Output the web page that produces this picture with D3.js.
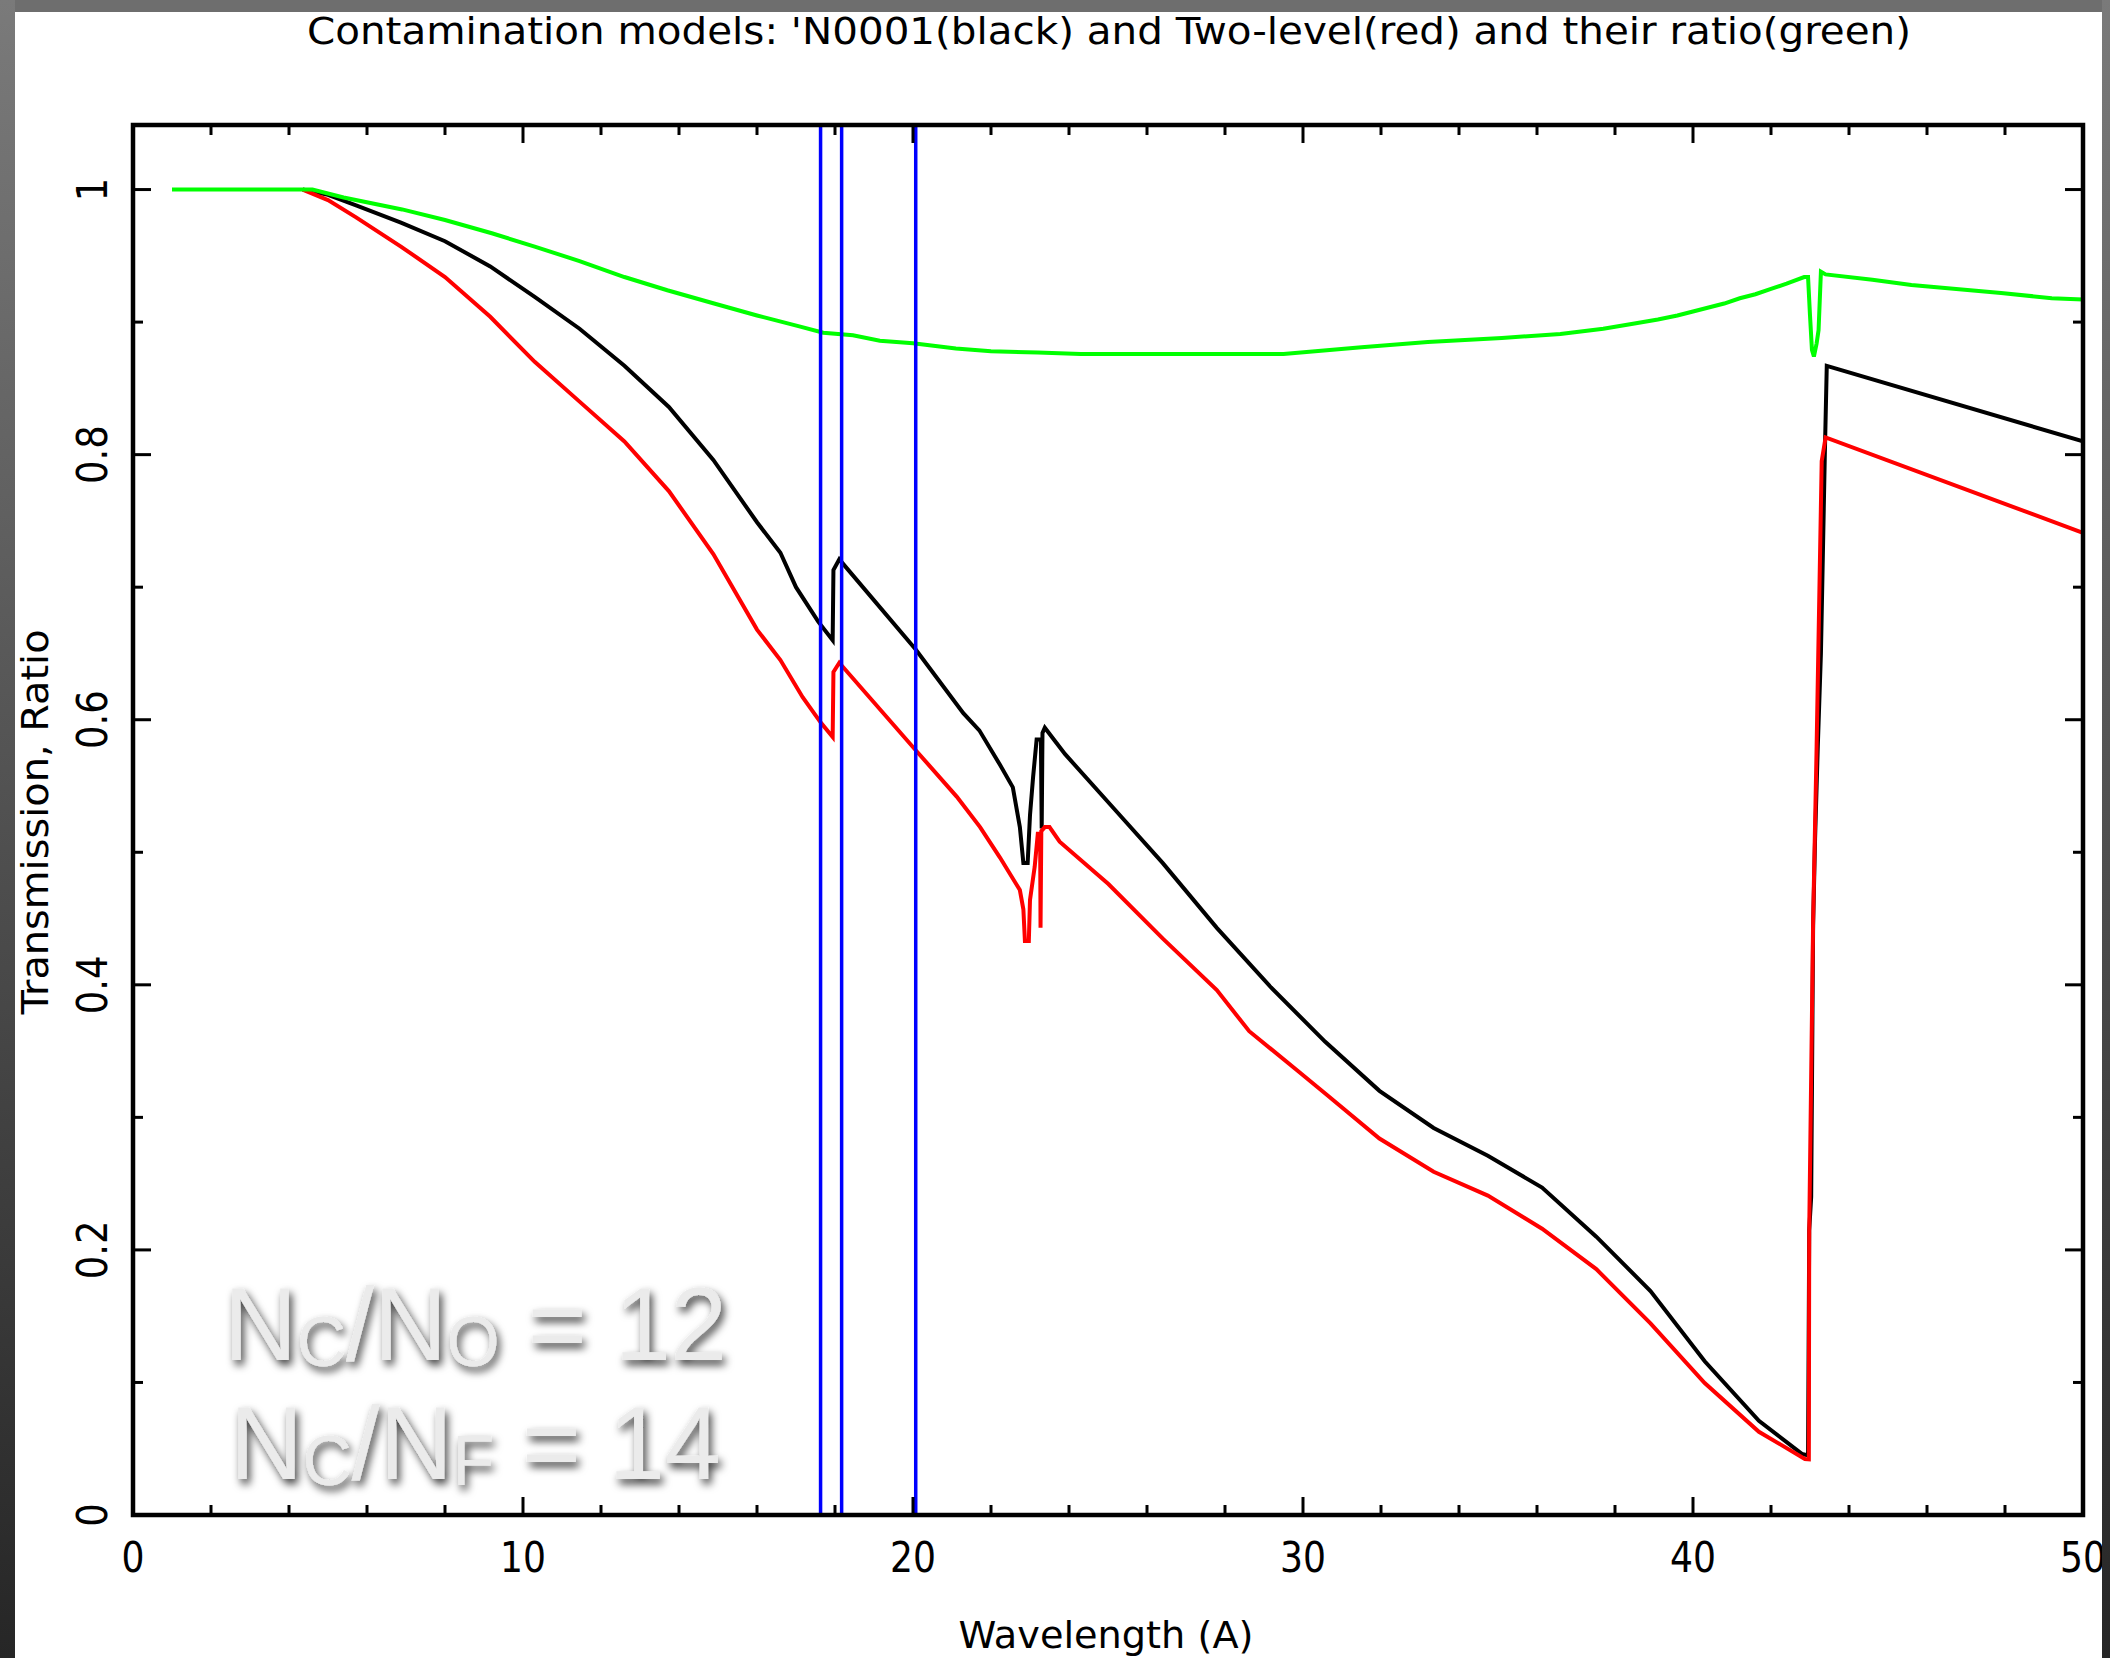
<!DOCTYPE html>
<html>
<head>
<meta charset="utf-8">
<script src="https://cdn.jsdelivr.net/npm/d3@7"></script>
<style>
  html, body { margin: 0; padding: 0; background: #fff; }
  svg { display: block; }
</style>
</head>
<body>
<div id="visual-area"></div>
<script>
// wavelength (A) vs transmission for the two contamination models
const modelN0001 = [
  [4.35, 1.0], [5.0, 0.996], [5.72, 0.988], [6.87, 0.975], [8.0, 0.961], [9.16, 0.942],
  [10.3, 0.919], [11.45, 0.895], [12.6, 0.867], [13.74, 0.836], [14.88, 0.796], [16.0, 0.749],
  [16.6, 0.726], [17.0, 0.700], [17.57, 0.674], [17.94, 0.660], [17.96, 0.713], [18.11, 0.721],
  [20.07, 0.653], [21.29, 0.605], [21.7, 0.592], [22.23, 0.566], [22.56, 0.549], [22.74, 0.519],
  [22.83, 0.492], [22.94, 0.492], [23.0, 0.528], [23.08, 0.557], [23.17, 0.585], [23.28, 0.585],
  [23.3, 0.518], [23.32, 0.59], [23.38, 0.594], [23.9, 0.574], [25.15, 0.533], [26.4, 0.492],
  [27.79, 0.443], [29.18, 0.398], [30.57, 0.357], [31.96, 0.320], [33.35, 0.292], [34.74, 0.271],
  [36.13, 0.247], [37.52, 0.210], [38.91, 0.169], [40.3, 0.116], [41.69, 0.071], [42.8, 0.046],
  [42.95, 0.045], [42.98, 0.215], [43.03, 0.24], [43.08, 0.445], [43.13, 0.51], [43.2, 0.58],
  [43.28, 0.65], [43.38, 0.80], [43.43, 0.867], [50.0, 0.810]
];

const modelTwoLevel = [
  [4.35, 1.0], [5.0, 0.992], [5.72, 0.979], [6.87, 0.957], [8.0, 0.934], [9.16, 0.904],
  [10.3, 0.870], [11.45, 0.840], [12.6, 0.810], [13.74, 0.7725], [14.88, 0.725], [16.0, 0.668],
  [16.6, 0.645], [17.17, 0.617], [17.63, 0.598], [17.94, 0.587], [17.96, 0.636], [18.11, 0.643],
  [20.07, 0.577], [21.12, 0.542], [21.72, 0.519], [22.23, 0.496], [22.74, 0.4715], [22.83, 0.457],
  [22.87, 0.433], [22.97, 0.433], [23.0, 0.464], [23.12, 0.489], [23.2, 0.514], [23.26, 0.514],
  [23.27, 0.443], [23.29, 0.516], [23.38, 0.519], [23.5, 0.519], [23.76, 0.508], [25.01, 0.476],
  [26.4, 0.435], [27.79, 0.396], [28.62, 0.365], [29.87, 0.335], [30.57, 0.318], [31.96, 0.284],
  [33.35, 0.259], [34.74, 0.241], [36.13, 0.216], [37.52, 0.1855], [38.91, 0.1446], [40.3, 0.0996],
  [41.69, 0.0628], [42.87, 0.0423], [42.97, 0.042], [42.98, 0.214], [43.08, 0.448], [43.17, 0.58],
  [43.3, 0.795], [43.4, 0.813], [50.0, 0.741]
];

const modelRatio = [
  [1.0, 1.0], [4.6, 1.0], [5.4, 0.994], [6.9, 0.985], [8.0, 0.977], [9.2, 0.967], [10.3, 0.957],
  [11.45, 0.946], [12.6, 0.934], [13.7, 0.924], [14.9, 0.914], [16.0, 0.905], [17.06, 0.897],
  [17.7, 0.892], [18.46, 0.890], [19.15, 0.886], [20.0, 0.884], [21.1, 0.880], [22.0, 0.878],
  [23.2, 0.877], [24.3, 0.876], [29.5, 0.876], [31.5, 0.881], [33.2, 0.885], [35.1, 0.888],
  [36.6, 0.891], [37.7, 0.895], [38.5, 0.899], [39.1, 0.902], [39.6, 0.905], [40.0, 0.908],
  [40.4, 0.911], [40.8, 0.914], [41.2, 0.918], [41.6, 0.921], [42.0, 0.925], [42.4, 0.929],
  [42.85, 0.934], [42.95, 0.934], [43.0, 0.905], [43.05, 0.879], [43.1, 0.874], [43.17, 0.884],
  [43.22, 0.894], [43.28, 0.938], [43.4, 0.936], [44.6, 0.932], [45.6, 0.928], [46.75, 0.925],
  [47.9, 0.922], [49.2, 0.918], [50.0, 0.917]
];

// marker wavelengths
const edgeLines = [17.63, 18.17, 20.07];

const xMajor = [0, 10, 20, 30, 40, 50];
const yMajor = [0, 0.2, 0.4, 0.6, 0.8, 1];
const yLabels = ["0", "0.2", "0.4", "0.6", "0.8", "1"];

const titleText = "Contamination models: 'N0001(black) and Two-level(red) and their ratio(green)";

const width = 2110, height = 1658;
const plot = { left: 133, right: 2083, top: 125, bottom: 1515 };

const svg = d3.select("#visual-area")
  .append("svg")
  .attr("width", width)
  .attr("height", height)
  .style("font-family", "'DejaVu Sans', sans-serif");

const defs = svg.append("defs");

defs.append("clipPath").attr("id", "plot-clip")
  .append("rect")
  .attr("x", plot.left).attr("y", plot.top)
  .attr("width", plot.right - plot.left).attr("height", plot.bottom - plot.top);

const sideGrad = defs.append("linearGradient")
  .attr("id", "side-grad").attr("x1", 0).attr("y1", 0).attr("x2", 0).attr("y2", 1);
sideGrad.append("stop").attr("offset", "0%").attr("stop-color", "#7a7a7a");
sideGrad.append("stop").attr("offset", "100%").attr("stop-color", "#262626");

const shadow = defs.append("filter").attr("id", "note-shadow")
  .attr("x", "-10%").attr("y", "-20%").attr("width", "130%").attr("height", "160%");
shadow.append("feDropShadow")
  .attr("dx", 3).attr("dy", 5).attr("stdDeviation", 4)
  .attr("flood-color", "#000").attr("flood-opacity", 0.75);

svg.append("rect").attr("width", width).attr("height", height).attr("fill", "#fff");

const x = d3.scaleLinear().domain([0, 50]).range([plot.left, plot.right]);
const y = d3.scaleLinear().domain([0, 1.0487]).range([plot.bottom, plot.top]);

const line = d3.line().x(d => x(d[0])).y(d => y(d[1]));

const curves = svg.append("g").attr("clip-path", "url(#plot-clip)");

[
  { data: modelN0001, color: "#000000" },
  { data: modelTwoLevel, color: "#ff0000" },
  { data: modelRatio, color: "#00ff00" }
].forEach(s => {
  curves.append("path")
    .datum(s.data)
    .attr("d", line)
    .attr("fill", "none")
    .attr("stroke", s.color)
    .attr("stroke-width", 4)
    .attr("stroke-linejoin", "miter");
});

curves.selectAll("line.edge")
  .data(edgeLines)
  .join("line")
  .attr("class", "edge")
  .attr("x1", d => x(d)).attr("x2", d => x(d))
  .attr("y1", plot.top).attr("y2", plot.bottom)
  .attr("stroke", "#0000ff")
  .attr("stroke-width", 3.5);

// frame with inward ticks on all four sides
const frame = svg.append("g");

frame.append("rect")
  .attr("x", plot.left).attr("y", plot.top)
  .attr("width", plot.right - plot.left).attr("height", plot.bottom - plot.top)
  .attr("fill", "none")
  .attr("stroke", "#000")
  .attr("stroke-width", 4.5);

const xTicks = d3.range(0, 51, 2);
const yTicks = d3.range(0, 11).map(i => i / 10);
const majorLen = 18, minorLen = 10;

frame.selectAll("line.xt")
  .data(xTicks)
  .join("line")
  .attr("class", "xt")
  .attr("x1", d => x(d)).attr("x2", d => x(d))
  .attr("y1", plot.bottom)
  .attr("y2", d => plot.bottom - (d % 10 === 0 ? majorLen : minorLen))
  .attr("stroke", "#000").attr("stroke-width", 3);

frame.selectAll("line.xtt")
  .data(xTicks)
  .join("line")
  .attr("class", "xtt")
  .attr("x1", d => x(d)).attr("x2", d => x(d))
  .attr("y1", plot.top)
  .attr("y2", d => plot.top + (d % 10 === 0 ? majorLen : minorLen))
  .attr("stroke", "#000").attr("stroke-width", 3);

const isMajorY = d => Math.round(d * 10) % 2 === 0;

frame.selectAll("line.yt")
  .data(yTicks)
  .join("line")
  .attr("class", "yt")
  .attr("y1", d => y(d)).attr("y2", d => y(d))
  .attr("x1", plot.left)
  .attr("x2", d => plot.left + (isMajorY(d) ? majorLen : minorLen))
  .attr("stroke", "#000").attr("stroke-width", 3);

frame.selectAll("line.ytr")
  .data(yTicks)
  .join("line")
  .attr("class", "ytr")
  .attr("y1", d => y(d)).attr("y2", d => y(d))
  .attr("x1", plot.right)
  .attr("x2", d => plot.right - (isMajorY(d) ? majorLen : minorLen))
  .attr("stroke", "#000").attr("stroke-width", 3);

// narrow the plotter-style labels a little
function squeeze(sel, k) {
  sel.each(function() {
    const w = this.getComputedTextLength();
    d3.select(this).attr("textLength", w * k).attr("lengthAdjust", "spacingAndGlyphs");
  });
}

// tick labels
svg.append("g")
  .selectAll("text")
  .data(xMajor)
  .join("text")
  .attr("x", d => x(d))
  .attr("y", 1572)
  .attr("text-anchor", "middle")
  .attr("font-size", 42)
  .attr("fill", "#000")
  .text(d => d)
  .call(squeeze, 0.86);

svg.append("g")
  .selectAll("text")
  .data(yMajor)
  .join("text")
  .attr("transform", d => `translate(107,${y(d)}) rotate(-90)`)
  .attr("text-anchor", "middle")
  .attr("font-size", 42)
  .attr("fill", "#000")
  .text((d, i) => yLabels[i])
  .call(squeeze, 0.88);

// title and axis labels
svg.append("text")
  .attr("x", 1109).attr("y", 44)
  .attr("text-anchor", "middle")
  .attr("font-size", 38)
  .attr("textLength", 1604)
  .attr("lengthAdjust", "spacingAndGlyphs")
  .text(titleText);

svg.append("text")
  .attr("x", 1106).attr("y", 1648)
  .attr("text-anchor", "middle")
  .attr("font-size", 38)
  .attr("textLength", 295)
  .attr("lengthAdjust", "spacingAndGlyphs")
  .text("Wavelength (A)");

svg.append("text")
  .attr("transform", "translate(48,822) rotate(-90)")
  .attr("text-anchor", "middle")
  .attr("font-size", 38)
  .attr("textLength", 385)
  .attr("lengthAdjust", "spacingAndGlyphs")
  .text("Transmission, Ratio");

// abundance ratio notes
const notes = [
  { sub2: "O", tail: " = 12", left: 224, base: 1360, len: 503 },
  { sub2: "F", tail: " = 14", left: 230, base: 1479, len: 491 }
];

notes.forEach(n => {
  const g = svg.append("g").attr("filter", "url(#note-shadow)");
  const inner = g.append("g");
  const t = inner.append("text")
    .attr("x", 0).attr("y", 0)
    .attr("font-family", "'Liberation Sans', Arial, sans-serif")
    .attr("font-size", 104)
    .attr("fill", "#ebebeb");
  t.append("tspan").text("N");
  t.append("tspan").attr("font-size", 70).attr("dy", 6).text("C");
  t.append("tspan").attr("dy", -6).text("/N");
  t.append("tspan").attr("font-size", 70).attr("dy", 6).text(n.sub2);
  t.append("tspan").attr("dy", -6).text(n.tail);
  const b = t.node().getBBox();
  const k = n.len / b.width;
  inner.attr("transform", `translate(${n.left - b.x * k},${n.base}) scale(${k},1)`);
});

// dark window edges
svg.append("rect").attr("x", 0).attr("y", 0).attr("width", width).attr("height", 12).attr("fill", "#6e6e6e");
svg.append("rect").attr("x", 0).attr("y", 0).attr("width", 15).attr("height", height).attr("fill", "url(#side-grad)");
svg.append("rect").attr("x", 2102).attr("y", 0).attr("width", 8).attr("height", height).attr("fill", "url(#side-grad)");
</script>
</body>
</html>
